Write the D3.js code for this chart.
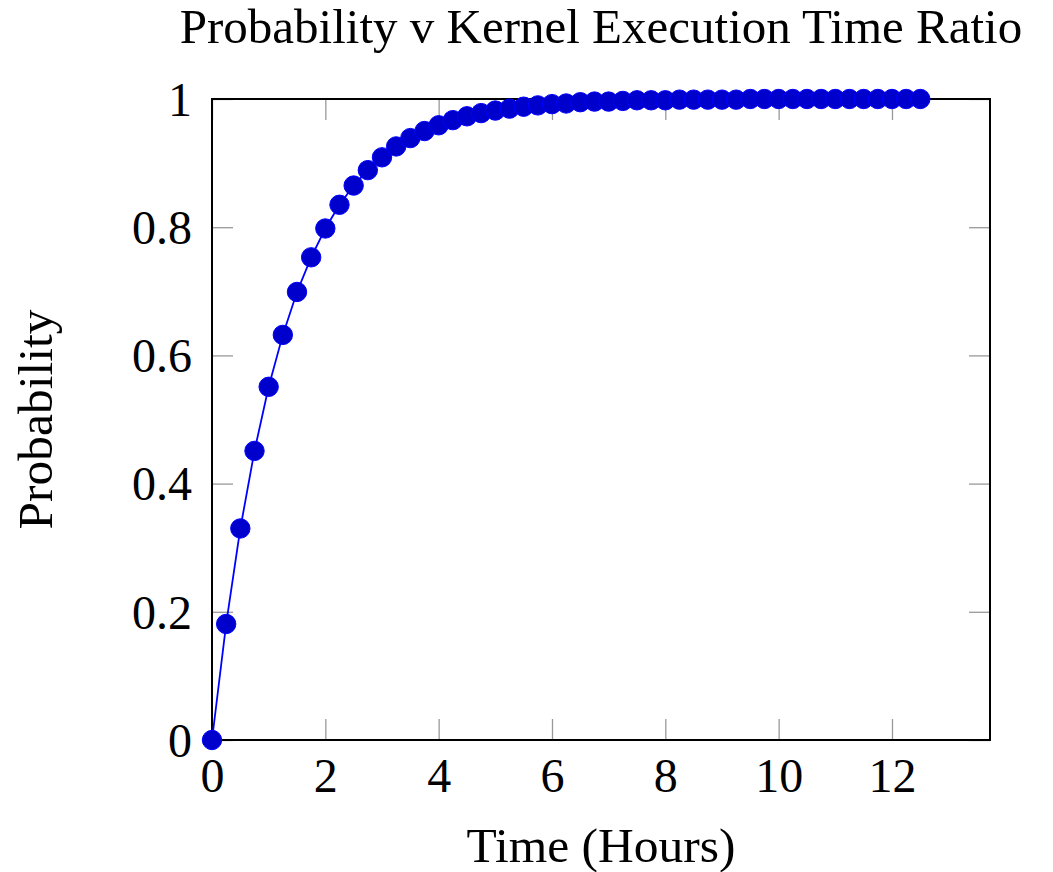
<!DOCTYPE html>
<html>
<head>
<meta charset="utf-8">
<script src="https://cdn.jsdelivr.net/npm/d3@7"></script>
<style>
  body { margin: 0; background: #fff; }
  text { font-family: "Liberation Serif", "Times New Roman", serif; fill: #000; }
</style>
</head>
<body>
<div id="chart"></div>
<script>
// time in hours, one point every quarter hour
var hours = [0, 0.25, 0.5, 0.75, 1, 1.25, 1.5, 1.75, 2, 2.25, 2.5, 2.75, 3, 3.25, 3.5, 3.75,
  4, 4.25, 4.5, 4.75, 5, 5.25, 5.5, 5.75, 6, 6.25, 6.5, 6.75, 7, 7.25, 7.5, 7.75,
  8, 8.25, 8.5, 8.75, 9, 9.25, 9.5, 9.75, 10, 10.25, 10.5, 10.75, 11, 11.25, 11.5, 11.75,
  12, 12.25, 12.5]
var probability = [0, 0.181, 0.330, 0.451, 0.551, 0.632, 0.699, 0.753, 0.798, 0.835, 0.865, 0.889,
  0.909, 0.926, 0.939, 0.950, 0.959, 0.967, 0.973, 0.978, 0.982, 0.985, 0.988, 0.990,
  0.992, 0.993, 0.995, 0.996, 0.996, 0.997, 0.998, 0.998, 0.998, 0.999, 0.999, 0.999,
  0.999, 0.999, 1, 1, 1, 1, 1, 1, 1, 1, 1, 1, 1, 1, 1]
var xTicks = [0, 2, 4, 6, 8, 10, 12]
var yTicks = [0, 0.2, 0.4, 0.6, 0.8, 1]

var W = 1053, H = 872
var margin = {top: 99, right: 63, bottom: 132, left: 212},
    width = W - margin.left - margin.right,
    height = H - margin.top - margin.bottom;

var svg = d3.select("#chart").append("svg")
  .attr("width", W)
  .attr("height", H)

var g = svg.append("g")
  .attr("transform", "translate(" + margin.left + "," + margin.top + ")")

var x = d3.scaleLinear().domain([0, 13.73]).range([0, width])
var y = d3.scaleLinear().domain([0, 1]).range([height, 0])

var tickLen = 21

// ticks on all four sides, pointing inwards
var bottom = g.append("g")
  .attr("transform", "translate(0," + height + ")")
  .call(d3.axisBottom(x).tickValues(xTicks).tickSize(-tickLen).tickFormat(d3.format("")))
var top = g.append("g")
  .call(d3.axisTop(x).tickValues(xTicks).tickSize(-tickLen).tickFormat(""))
var left = g.append("g")
  .call(d3.axisLeft(y).tickValues(yTicks).tickSize(-tickLen).tickFormat(d3.format("")))
var right = g.append("g")
  .attr("transform", "translate(" + width + ",0)")
  .call(d3.axisRight(y).tickValues(yTicks).tickSize(-tickLen).tickFormat(""))

g.selectAll(".domain").remove()
g.selectAll(".tick line").attr("stroke", "#999").attr("stroke-width", 1.3)

bottom.selectAll(".tick text")
  .attr("y", 52)
  .attr("dy", null)
  .style("font-size", "48px")
  .style("font-family", "Liberation Serif")
left.selectAll(".tick text")
  .attr("x", -20)
  .attr("dy", "0.34em")
  .style("font-size", "48px")
  .style("font-family", "Liberation Serif")

// frame
g.append("rect")
  .attr("width", width)
  .attr("height", height)
  .attr("fill", "none")
  .attr("stroke", "#000")
  .attr("stroke-width", 2)

var pts = hours.map(function(h, i) { return {h: h, p: probability[i]} })

g.append("path")
  .datum(pts)
  .attr("fill", "none")
  .attr("stroke", "#0000ff")
  .attr("stroke-width", 1.8)
  .attr("d", d3.line().x(function(d) { return x(d.h) }).y(function(d) { return y(d.p) }))

g.selectAll(".mark")
  .data(pts)
  .enter().append("circle")
  .attr("class", "mark")
  .attr("cx", function(d) { return x(d.h) })
  .attr("cy", function(d) { return y(d.p) })
  .attr("r", 9.7)
  .attr("fill", "#0000cc")
  .attr("stroke", "#0000ff")
  .attr("stroke-width", 1)

svg.append("text")
  .attr("x", margin.left + width / 2)
  .attr("y", 43)
  .attr("text-anchor", "middle")
  .style("font-size", "49px")
  .text("Probability v Kernel Execution Time Ratio")

svg.append("text")
  .attr("x", margin.left + width / 2)
  .attr("y", 862)
  .attr("text-anchor", "middle")
  .style("font-size", "49.5px")
  .text("Time (Hours)")

svg.append("text")
  .attr("transform", "translate(52," + (margin.top + height / 2) + ") rotate(-90)")
  .attr("text-anchor", "middle")
  .style("font-size", "49.5px")
  .text("Probability")
</script>
</body>
</html>
